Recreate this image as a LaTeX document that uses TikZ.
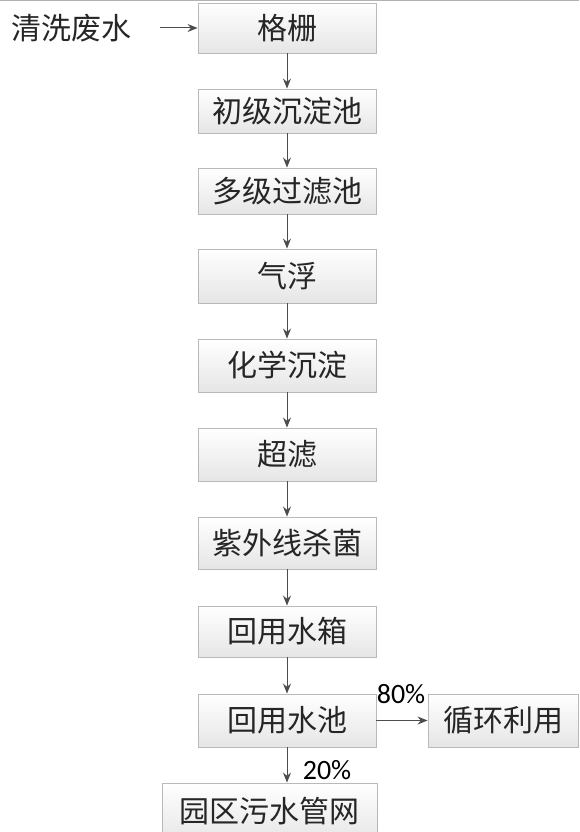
\documentclass[tikz,border=0pt]{standalone}
\usepackage{fontspec}
\newfontfamily\cjk{Noto Sans CJK SC}
\newfontfamily\lat{Carlito}
\usetikzlibrary{arrows.meta}
\tikzset{
  box/.style={draw=gray!55, line width=0.9pt, top color=white, bottom color=gray!20,
    minimum width=178pt, inner sep=0pt, font=\cjk\fontsize{30}{32}\selectfont, text=black!85},
  arr/.style={draw=black!70, line width=1pt, -{Stealth[length=10pt,width=8pt]}},
  pct/.style={font=\lat\fontsize{28}{30}\selectfont, text=black, inner sep=0pt}
}
\begin{document}
\begin{tikzpicture}[x=1pt,y=-1pt]
\useasboundingbox (0,0) rectangle (579,832);
\clip (0,0) rectangle (579,832);
\fill[white] (0,0) rectangle (579,832);
\draw[gray!60, line width=1.2pt] (0,0.6) -- (579,0.6);
\node[box, minimum height=50pt] (gs) at (287,28) {格栅};
\node[box, minimum height=44pt] (cj) at (287,111) {初级沉淀池};
\node[box, minimum height=46pt] (dj) at (287,191) {多级过滤池};
\node[box, minimum height=54pt] (qf) at (287,276) {气浮};
\node[box, minimum height=53pt] (hx) at (287,365.5) {化学沉淀};
\node[box, minimum height=53pt] (cl) at (287,454.5) {超滤};
\node[box, minimum height=52pt] (zw) at (287,543) {紫外线杀菌};
\node[box, minimum height=51pt] (hs) at (287,631.5) {回用水箱};
\node[box, minimum height=53pt] (hc) at (287,720.5) {回用水池};
\node[box, minimum height=60pt, minimum width=215pt] (yq) at (269.5,813) {\raisebox{6pt}{园区污水管网}};
\node[box, minimum height=53pt, minimum width=150pt] (xh) at (503,720.5) {循环利用};
\node[font=\cjk\fontsize{30}{32}\selectfont, text=black!85, inner sep=0pt] (qx) at (72,28) {清洗废水};
\coordinate (in) at (160,28);
\draw[arr] (in) -- (gs.west);
\draw[arr] (gs) -- (cj);
\draw[arr] (cj) -- (dj);
\draw[arr] (dj) -- (qf);
\draw[arr] (qf) -- (hx);
\draw[arr] (hx) -- (cl);
\draw[arr] (cl) -- (zw);
\draw[arr] (zw) -- (hs);
\draw[arr] (hs) -- (hc);
\draw[arr] (hc.south) -- (hc.south |- yq.north);
\draw[arr] (hc.east) -- (xh.west);
\node[pct] (p80) at (401,694) {80\%};
\node[pct] (p20) at (327,770) {20\%};
\end{tikzpicture}
\end{document}
